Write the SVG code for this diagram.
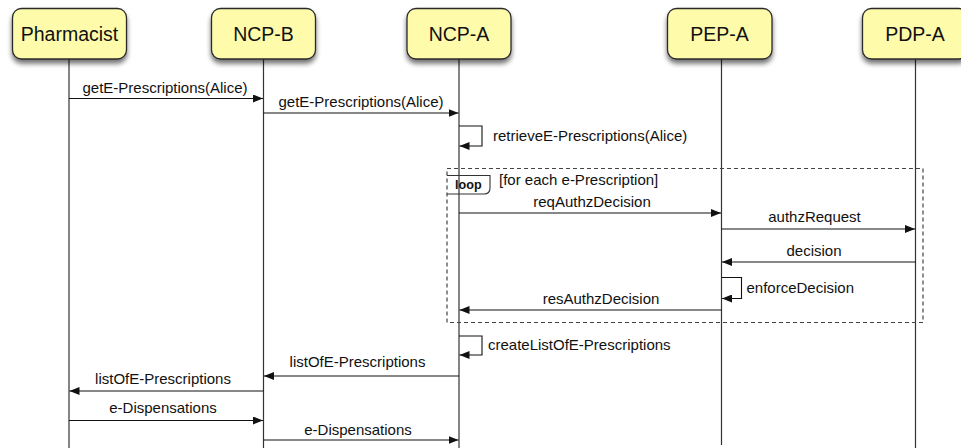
<svg xmlns="http://www.w3.org/2000/svg" width="961" height="448" viewBox="0 0 961 448">
<style>
.box{fill:#fefcaa;stroke:#2a2a2a;stroke-width:1.3}
.hdr{font-family:"Liberation Sans",Arial,sans-serif;font-size:19.5px;fill:#111;text-anchor:middle}
.life{stroke:#333;stroke-width:1.2;fill:none}
.msg{stroke:#111;stroke-width:1.1;fill:none}
.lbl{font-family:"Liberation Sans",Arial,sans-serif;font-size:15px;fill:#111}
.mid{text-anchor:middle}
.loop{stroke:#444;stroke-width:1.2;fill:none;stroke-dasharray:4,3}
.tag{stroke:#333;stroke-width:1.1;fill:none}
.tagt{font-family:"Liberation Sans",Arial,sans-serif;font-size:12.6px;font-weight:bold;fill:#111}
</style>
<defs>
<filter id="sh" x="-20%" y="-20%" width="140%" height="160%">
<feGaussianBlur in="SourceAlpha" stdDeviation="2.5"/>
<feOffset dx="0" dy="4" result="b"/>
<feComponentTransfer><feFuncA type="linear" slope="0.55"/></feComponentTransfer>
<feMerge><feMergeNode/><feMergeNode in="SourceGraphic"/></feMerge>
</filter>
<marker id="ah" markerWidth="11" markerHeight="8" refX="10" refY="4" orient="auto" markerUnits="userSpaceOnUse">
<path d="M0,0 L10,4 L0,8 Z" fill="#111"/>
</marker>
</defs>
<g id="lifelines">
<line class="life" x1="69" y1="59" x2="69" y2="448"/>
<line class="life" x1="263.5" y1="59" x2="263.5" y2="448"/>
<line class="life" x1="459" y1="59" x2="459" y2="448"/>
<line class="life" x1="721.5" y1="59" x2="721.5" y2="445"/>
<line class="life" x1="915.5" y1="59" x2="915.5" y2="448"/>
</g>
<g id="pharmacist">
<rect class="box" x="12.5" y="8.5" width="114" height="50.5" rx="9" filter="url(#sh)"/>
<text class="hdr" x="69.5" y="41">Pharmacist</text>
</g>
<g id="ncp-b">
<rect class="box" x="211.5" y="8.5" width="104" height="50.5" rx="9" filter="url(#sh)"/>
<text class="hdr" x="263.5" y="41">NCP-B</text>
</g>
<g id="ncp-a">
<rect class="box" x="407" y="8.5" width="104" height="50.5" rx="9" filter="url(#sh)"/>
<text class="hdr" x="459" y="41">NCP-A</text>
</g>
<g id="pep-a">
<rect class="box" x="667.5" y="8.5" width="104.5" height="50.5" rx="9" filter="url(#sh)"/>
<text class="hdr" x="719.5" y="41">PEP-A</text>
</g>
<g id="pdp-a">
<rect class="box" x="862.5" y="8.5" width="105.5" height="50.5" rx="9" filter="url(#sh)"/>
<text class="hdr" x="915" y="41">PDP-A</text>
</g>
<g id="loop">
<rect class="loop" x="447" y="168.5" width="476" height="154"/>
<path class="tag" d="M447,175.5 H490 V188 Q490,194 484,194 H447"/>
<text class="tagt" x="455" y="189">loop</text>
<text class="lbl" x="499" y="185">[for each e-Prescription]</text>
</g>
<g id="connectors">
<line class="msg" x1="69" y1="98.5" x2="263" y2="98.5" marker-end="url(#ah)"/>
<text class="lbl mid" x="165" y="93">getE-Prescriptions(Alice)</text>
<line class="msg" x1="263.5" y1="113" x2="458.5" y2="113" marker-end="url(#ah)"/>
<text class="lbl mid" x="361" y="107">getE-Prescriptions(Alice)</text>
<path class="msg" d="M459,126 H482 V146 H459.5" marker-end="url(#ah)"/>
<text class="lbl" x="493" y="141">retrieveE-Prescriptions(Alice)</text>
<line class="msg" x1="459" y1="213" x2="721" y2="213" marker-end="url(#ah)"/>
<text class="lbl mid" x="592" y="207">reqAuthzDecision</text>
<line class="msg" x1="721.5" y1="229" x2="915" y2="229" marker-end="url(#ah)"/>
<text class="lbl mid" x="814.5" y="222">authzRequest</text>
<line class="msg" x1="915.5" y1="262" x2="722" y2="262" marker-end="url(#ah)"/>
<text class="lbl mid" x="814" y="256">decision</text>
<path class="msg" d="M721.5,277.5 H741.5 V298.5 H722" marker-end="url(#ah)"/>
<text class="lbl" x="746.5" y="293">enforceDecision</text>
<line class="msg" x1="721.5" y1="310" x2="459.5" y2="310" marker-end="url(#ah)"/>
<text class="lbl mid" x="601" y="304">resAuthzDecision</text>
<path class="msg" d="M459,336 H482 V355 H459.5" marker-end="url(#ah)"/>
<text class="lbl" x="488" y="350">createListOfE-Prescriptions</text>
<line class="msg" x1="459" y1="376" x2="264" y2="376" marker-end="url(#ah)"/>
<text class="lbl mid" x="357.5" y="366.5">listOfE-Prescriptions</text>
<line class="msg" x1="263.5" y1="391" x2="69.5" y2="391" marker-end="url(#ah)"/>
<text class="lbl mid" x="163" y="384">listOfE-Prescriptions</text>
<line class="msg" x1="69" y1="420.5" x2="263" y2="420.5" marker-end="url(#ah)"/>
<text class="lbl mid" x="163" y="413">e-Dispensations</text>
<line class="msg" x1="263.5" y1="440" x2="458.5" y2="440" marker-end="url(#ah)"/>
<text class="lbl mid" x="358" y="435">e-Dispensations</text>
</g>
</svg>
